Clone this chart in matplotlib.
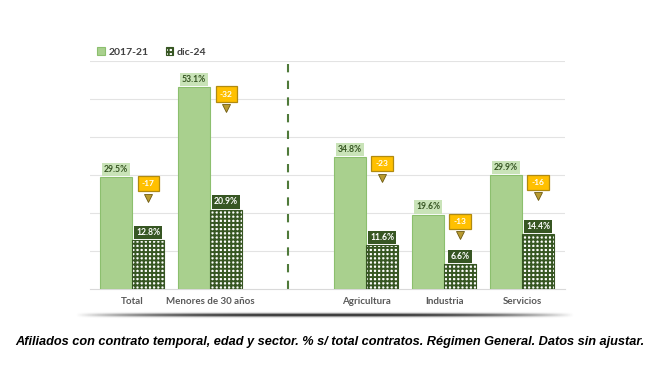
import numpy as np
import matplotlib
matplotlib.use("Agg")
import matplotlib.pyplot as plt

categories = ["Total", "Menores de 30 años", "Agricultura", "Industria", "Servicios"]
v2017 = [29.5, 53.1, 34.8, 19.6, 29.9]
v2024 = [12.8, 20.9, 11.6, 6.6, 14.4]
diffs = [-17, -32, -23, -13, -16]
series_names = ["2017-21", "dic-24"]
caption = ("Afiliados con contrato temporal, edad y sector. % s/ total contratos. "
           "Régimen General. Datos sin ajustar.")

light_green = "#a9d08e"
light_edge = "#8cbf6e"
dark_green = "#375623"
label_bg = "#c9e3b8"
orange = "#ffc000"
orange_edge = "#b08a10"

plt.rcParams["hatch.linewidth"] = 1.4
plt.rcParams["font.family"] = ["Lato", "DejaVu Sans"]

fig = plt.figure(figsize=(6.59, 3.71), dpi=100)
ax = fig.add_axes([90 / 659, 1 - 289 / 371, 475 / 659, 228 / 371])

# gap after the second group, dashed separator sits in it
x = np.arange(len(categories)) + (np.arange(len(categories)) >= 2)
w = 0.41

ax.bar(x - w / 2, v2017, width=w, color=light_green, edgecolor=light_edge,
       linewidth=0.8, zorder=3, label=series_names[0])
ax.bar(x + w / 2, v2024, width=w, color="white", edgecolor=dark_green,
       hatch="++++", linewidth=0.8, zorder=3, label=series_names[1])

for xi, a, b, d in zip(x, v2017, v2024, diffs):
    ax.text(xi - w / 2, a + 2.0, f"{a:.1f}%", ha="center", va="center",
            fontsize=6.2, fontweight="bold", color=dark_green, zorder=5,
            bbox=dict(boxstyle="square,pad=0.25", fc=label_bg, ec="none"))
    ax.text(xi + w / 2, b + 2.0, f"{b:.1f}%", ha="center", va="center",
            fontsize=6.2, fontweight="bold", color="white", zorder=5,
            bbox=dict(boxstyle="square,pad=0.25", fc=dark_green, ec="none"))
    ax.text(xi + w / 2, a - 1.8, f"{d}", ha="center", va="center",
            fontsize=6, fontweight="bold", color="white", zorder=5,
            bbox=dict(boxstyle="square,pad=0.5", fc=orange, ec=orange_edge, lw=0.9))
    ax.plot(xi + w / 2, a - 5.5, marker="v", ms=5.5, color="#b89a30",
            mec="#6e5a10", mew=0.6, zorder=5)

ax.axvline(2, color="#4f7a3a", lw=1.5, ls=(0, (4, 4)), zorder=2)

ax.set_xlim(-0.54, 5.55)
ax.set_ylim(0, 60)
ax.set_yticks(np.arange(10, 61, 10))
ax.yaxis.grid(True, color="#e3e3e3", lw=0.8, zorder=0)
ax.tick_params(axis="y", left=False, labelleft=False)
ax.tick_params(axis="x", length=0, pad=6)
ax.set_xticks(x)
ax.set_xticklabels(categories, fontsize=7, color="#595959", fontweight="bold")
for s in ["left", "right", "top"]:
    ax.spines[s].set_visible(False)
ax.spines["bottom"].set_color("#d9d9d9")
ax.spines["bottom"].set_linewidth(0.8)

leg = fig.legend(loc="upper left", bbox_to_anchor=(88 / 659, 1 - 38 / 371), ncol=2,
                 frameon=False, fontsize=7.5, handlelength=0.75, handleheight=0.75,
                 handletextpad=0.35, columnspacing=1.6)
for t in leg.get_texts():
    t.set_fontweight("bold")
    t.set_color("#404040")

# shadow strip under the chart
sax = fig.add_axes([75 / 659, 1 - 319 / 371, 500 / 659, 8 / 371])
xs = np.linspace(-1, 1, 300)
ys = np.linspace(-1, 1, 20)
fade = np.clip(1 - np.abs(xs) ** 3, 0, 1)
prof = np.exp(-(ys * 2.2) ** 2)
shade = np.outer(prof, fade)
rgba = np.zeros((len(ys), len(xs), 4))
rgba[..., 3] = shade * 0.85
sax.imshow(rgba, aspect="auto", extent=(0, 1, 0, 1))
sax.axis("off")

fig.text(0.5, 1 - 342 / 371, caption, ha="center", va="center", fontsize=9.2,
         fontweight="bold", fontstyle="italic", family="Liberation Sans", color="black")

fig.savefig("out.png", dpi=100, facecolor="white")
